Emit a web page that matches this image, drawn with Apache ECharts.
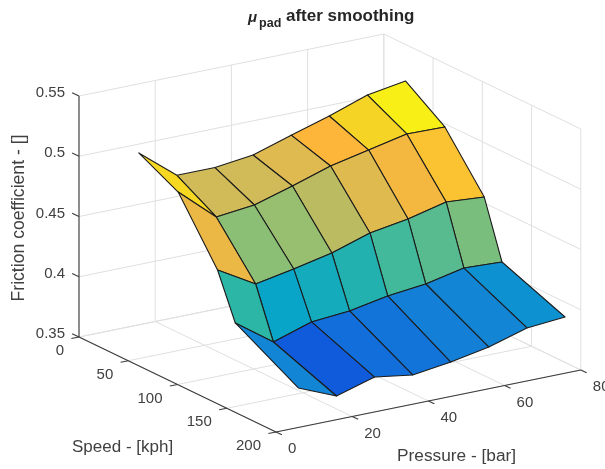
<!DOCTYPE html>
<html>
<head>
<meta charset="utf-8">
<style>
  html, body { margin: 0; padding: 0; background: #fff; }
  #chart { width: 605px; height: 469px; }
</style>
<script src="https://cdn.jsdelivr.net/npm/echarts@6/dist/echarts.min.js"></script>
</head>
<body>
<div id="chart"></div>
<script>
// surface data
var speeds = [22, 62, 102, 120, 184]
var pressures = [10, 20, 30, 40, 50, 60, 70, 80]
var friction0 = [0.505, 0.480, 0.480, 0.484, 0.494, 0.5035, 0.5145, 0.5197]
var friction1 = [0.4883, 0.4612, 0.4647, 0.474, 0.4842, 0.491, 0.4979, 0.4973]
var friction2 = [0.4394, 0.4213, 0.4273, 0.4342, 0.4444, 0.4495, 0.4572, 0.4549]
var friction3 = [0.4025, 0.3803, 0.3905, 0.3932, 0.3992, 0.4027, 0.4095, 0.4081]
var friction4 = [0.3738, 0.3607, 0.37, 0.3653, 0.3696, 0.3756, 0.385, 0.3877]
var friction = [friction0, friction1, friction2, friction3, friction4]

var speedTicks = [0, 50, 100, 150, 200]
var pressureTicks = [0, 20, 40, 60, 80]
var frictionTicks = [0.35, 0.4, 0.45, 0.5, 0.55]
var frictionLabels = ['0.35', '0.4', '0.45', '0.5', '0.55']

var parula = [
  [0, '#352a87'], [0.125, '#0f5cdd'], [0.25, '#1481d6'], [0.375, '#06a4ca'],
  [0.5, '#2eb7a4'], [0.625, '#87bf77'], [0.75, '#d1bb59'], [0.84, '#feb638'],
  [0.9, '#f6d525'], [1, '#f9fb0e']
]

var textColor = '#404040'
var gridColor = '#e0e0e0'
var font = 'Liberation Sans'

// view of the 3d box, plot coords per data unit
function project(s, p, z) {
  return [
    79 + 0.985 * s + 3.81 * p,
    337 + 0.475 * s - 0.775 * p - 1205 * (z - 0.35)
  ]
}

var sMax = 200, pMax = 80, zMin = 0.35, zMax = 0.55
var allZ = [].concat.apply([], friction)
var cMin = Math.min.apply(null, allZ), cMax = Math.max.apply(null, allZ)

function hex2rgb(h) {
  return [parseInt(h.substr(1, 2), 16), parseInt(h.substr(3, 2), 16), parseInt(h.substr(5, 2), 16)]
}
function faceColor(z) {
  var t = (z - cMin) / (cMax - cMin)
  for (var i = 1; i < parula.length; i++) {
    if (t <= parula[i][0]) {
      var a = parula[i - 1], b = parula[i]
      var f = (t - a[0]) / (b[0] - a[0])
      var c1 = hex2rgb(a[1]), c2 = hex2rgb(b[1])
      return 'rgb(' + c1.map(function (v, k) { return Math.round(v + (c2[k] - v) * f) }).join(',') + ')'
    }
  }
  return parula[parula.length - 1][1]
}

// back walls and floor
var gridSegments = []
speedTicks.forEach(function (s) {
  gridSegments.push([s, 0, zMin, s, pMax, zMin])
  gridSegments.push([s, pMax, zMin, s, pMax, zMax])
})
pressureTicks.forEach(function (p) {
  gridSegments.push([0, p, zMin, sMax, p, zMin])
  gridSegments.push([0, p, zMin, 0, p, zMax])
})
frictionTicks.forEach(function (z) {
  gridSegments.push([0, 0, z, 0, pMax, z])
  gridSegments.push([0, pMax, z, sMax, pMax, z])
})

// axis lines and tick marks
var axisSegments = [
  [0, 0, zMin, 0, 0, zMax],
  [0, 0, zMin, sMax, 0, zMin],
  [sMax, 0, zMin, sMax, pMax, zMin]
]
frictionTicks.forEach(function (z) { axisSegments.push([0, 0, z, -7, 0, z]) })
speedTicks.forEach(function (s) { axisSegments.push([s, 0, zMin, s, -2, zMin]) })
pressureTicks.forEach(function (p) { axisSegments.push([sMax, p, zMin, sMax + 6, p, zMin]) })

// quads back to front: [row, col]
var cells = []
for (var r = 0; r < speeds.length - 1; r++) {
  for (var c = pressures.length - 2; c >= 0; c--) {
    cells.push([r, c])
  }
}

// tick labels: anchor point, pixel offset, align
var tickTexts = []
frictionTicks.forEach(function (z, i) {
  tickTexts.push([0, 0, z, -14, -3, frictionLabels[i], 'right'])
})
speedTicks.forEach(function (s) {
  tickTexts.push([s, 0, zMin, -15, 14, String(s), 'right'])
})
pressureTicks.forEach(function (p) {
  tickTexts.push([sMax, p, zMin, 12, 17, String(p), 'left'])
})

function segmentItem(color, width) {
  return function (params, api) {
    var a = project(api.value(0), api.value(1), api.value(2))
    var b = project(api.value(3), api.value(4), api.value(5))
    var p1 = api.coord(a), p2 = api.coord(b)
    return {
      type: 'line',
      shape: { x1: p1[0], y1: p1[1], x2: p2[0], y2: p2[1] },
      style: { stroke: color, lineWidth: width, fill: null }
    }
  }
}

var chart = echarts.init(document.getElementById('chart'))
chart.setOption({
  animation: false,
  backgroundColor: '#fff',
  title: {
    left: 243,
    top: 2,
    text: '{mu|μ}{sub|pad} {main|after smoothing}',
    textStyle: {
      fontFamily: font,
      fontSize: 17,
      fontWeight: 'bold',
      color: '#262626',
      rich: {
        main: { fontFamily: font, fontWeight: 'bold', fontSize: 17, color: '#262626', padding: [0, 0, 4, 0] },
        mu: { fontFamily: font, fontStyle: 'italic', fontWeight: 'bold', fontSize: 15, color: '#262626', padding: [0, 0, 2, 0] },
        sub: { fontFamily: font, fontWeight: 'bold', fontSize: 12.5, color: '#262626', padding: [10, 0, 0, 2] }
      }
    }
  },
  grid: { left: 0, right: 0, top: 0, bottom: 0 },
  xAxis: { type: 'value', min: 0, max: 605, show: false },
  yAxis: { type: 'value', min: 0, max: 469, inverse: true, show: false },
  graphic: [
    {
      type: 'text', x: 72, y: 447,
      style: { text: 'Speed - [kph]', fontFamily: font, fontSize: 17, fill: textColor, verticalAlign: 'middle' }
    },
    {
      type: 'text', x: 397, y: 456,
      style: { text: 'Pressure - [bar]', fontFamily: font, fontSize: 17.3, fill: textColor, verticalAlign: 'middle' }
    },
    {
      type: 'text', x: 19, y: 218, rotation: Math.PI / 2,
      style: { text: 'Friction coefficient - []', fontFamily: font, fontSize: 17.6, fill: textColor, align: 'center', verticalAlign: 'middle' }
    }
  ],
  series: [
    {
      type: 'custom',
      silent: true,
      clip: false,
      data: gridSegments,
      renderItem: segmentItem(gridColor, 1)
    },
    {
      type: 'custom',
      silent: true,
      clip: false,
      z: 3,
      data: axisSegments,
      renderItem: segmentItem('#3c3c3c', 1.1)
    },
    {
      type: 'custom',
      silent: true,
      clip: false,
      z: 4,
      data: cells,
      renderItem: function (params, api) {
        var r = api.value(0), c = api.value(1)
        var corners = [[r, c], [r, c + 1], [r + 1, c + 1], [r + 1, c]]
        var pts = corners.map(function (k) {
          return api.coord(project(speeds[k[0]], pressures[k[1]], friction[k[0]][k[1]]))
        })
        return {
          type: 'polygon',
          shape: { points: pts },
          style: { fill: faceColor(friction[r][c]), stroke: '#1c1c1c', lineWidth: 1.1, lineJoin: 'round' }
        }
      }
    },
    {
      type: 'custom',
      silent: true,
      clip: false,
      z: 5,
      data: tickTexts,
      encode: { x: 0, y: 1 },
      renderItem: function (params, api) {
        var d = tickTexts[params.dataIndex]
        var p = api.coord(project(d[0], d[1], d[2]))
        return {
          type: 'text',
          x: p[0] + d[3],
          y: p[1] + d[4],
          style: { text: d[5], fontFamily: font, fontSize: 15, fill: textColor, align: d[6], verticalAlign: 'middle' }
        }
      }
    }
  ]
})
</script>
</body>
</html>
